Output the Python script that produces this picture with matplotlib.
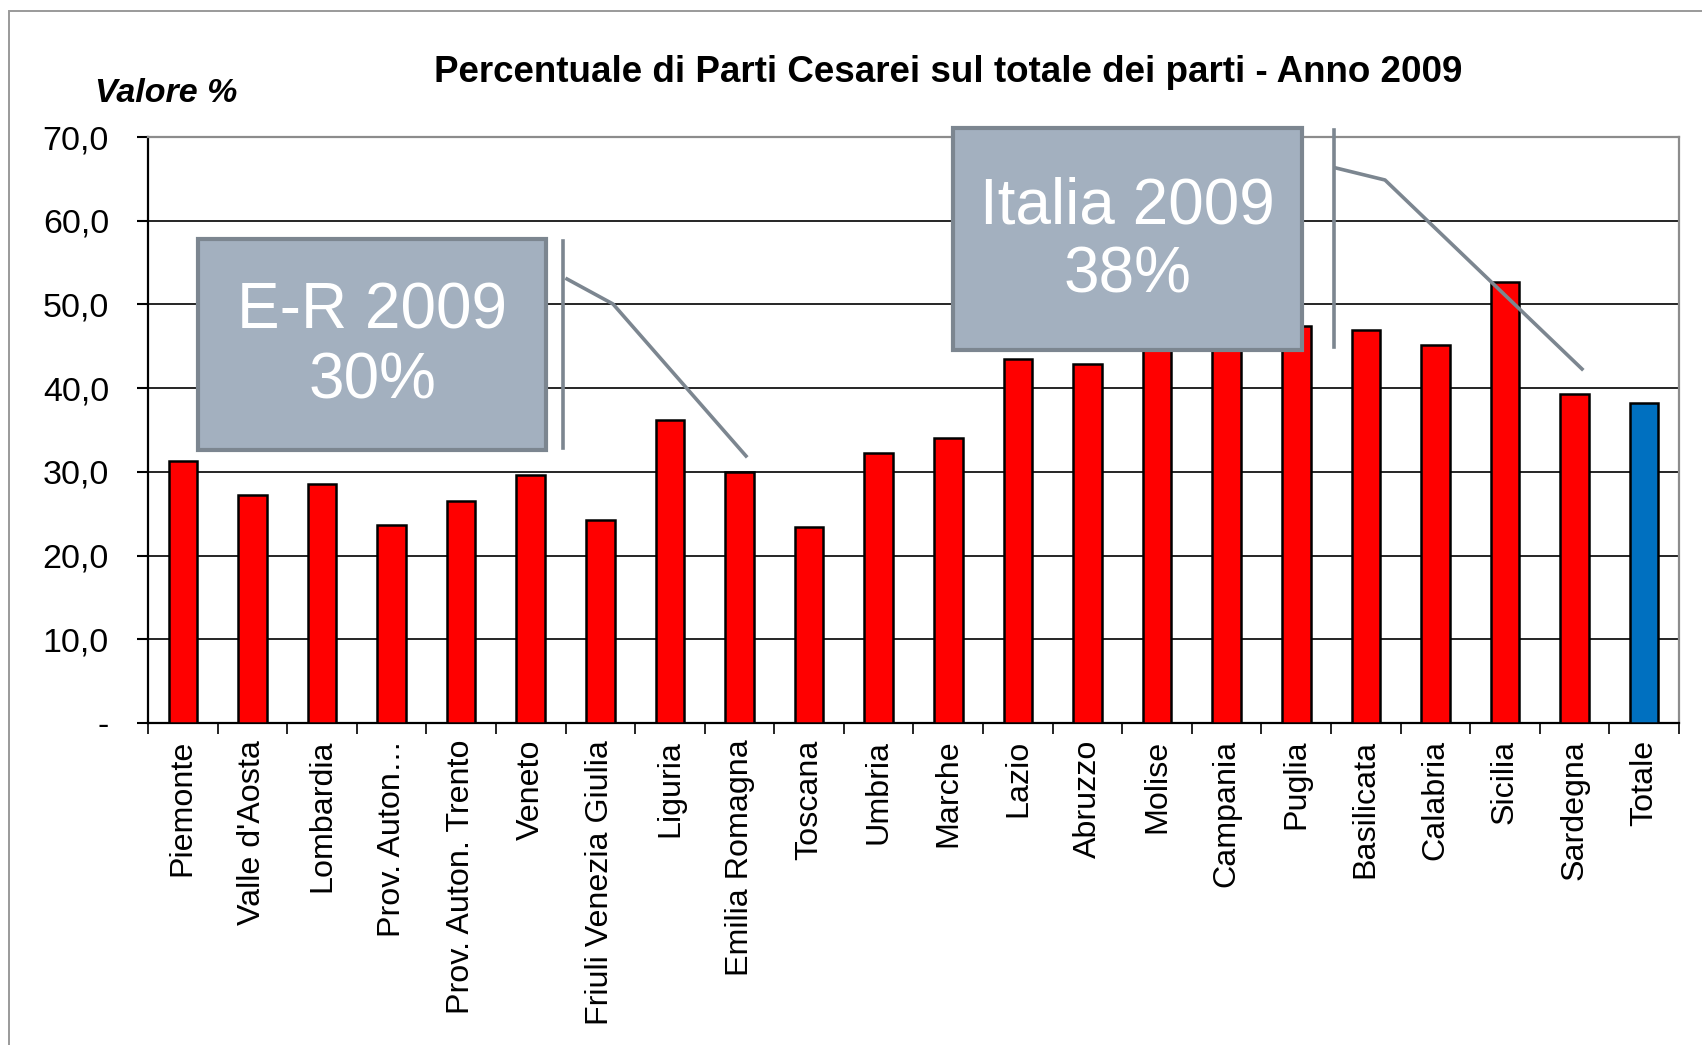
import matplotlib
matplotlib.use("Agg")
import matplotlib.pyplot as plt
from matplotlib.patches import Rectangle
from matplotlib.lines import Line2D

regions = ["Piemonte", "Valle d'Aosta", "Lombardia", "Prov. Auton…", "Prov. Auton. Trento",
           "Veneto", "Friuli Venezia Giulia", "Liguria", "Emilia Romagna", "Toscana",
           "Umbria", "Marche", "Lazio", "Abruzzo", "Molise", "Campania", "Puglia",
           "Basilicata", "Calabria", "Sicilia", "Sardegna", "Totale"]
values = [31.3, 27.2, 28.5, 23.7, 26.5, 29.6, 24.3, 36.2, 30.0, 23.4,
          32.2, 34.0, 43.5, 42.9, 58.0, 61.9, 47.4, 47.0, 45.2, 52.7, 39.3, 38.2]
bar_colors = ["#FF0000"] * 21 + ["#0070C0"]
yticks = [0, 10, 20, 30, 40, 50, 60, 70]
ytick_labels = ["-", "10,0", "20,0", "30,0", "40,0", "50,0", "60,0", "70,0"]
title = "Percentuale di Parti Cesarei sul totale dei parti - Anno 2009"
ylab = "Valore %"
callouts = ["E-R 2009\n30%", "Italia 2009\n38%"]

W, H = 1702, 1045
plt.rcParams['font.family'] = ['Liberation Sans', 'DejaVu Sans']
fig = plt.figure(figsize=(W / 100, H / 100), dpi=100)

def fx(x):
    return x / W

def fy(y):
    return 1 - y / H

ax_l, ax_r, ax_t, ax_b = 148, 1679, 137, 723
ax = fig.add_axes([fx(ax_l), fy(ax_b), (ax_r - ax_l) / W, (ax_b - ax_t) / H])

x = list(range(len(regions)))
ax.bar(x, values, width=0.41, color=bar_colors, edgecolor="black", linewidth=1.8, zorder=3)
ax.set_xlim(-0.5, len(regions) - 0.5)
ax.set_ylim(0, 70)
ax.set_yticks(yticks)
ax.set_yticklabels(ytick_labels, fontsize=24.5)
ax.yaxis.grid(True, color="black", linewidth=1.2, zorder=1)
ax.set_axisbelow(True)

ax.set_xticks(x)
ax.set_xticklabels(regions, rotation=90, fontsize=23.2, va="top", ha="center")
ax.set_xticks([i - 0.5 for i in range(len(regions) + 1)], minor=True)
ax.tick_params(axis="x", which="major", length=0, pad=12)
ax.tick_params(axis="x", which="minor", length=8, width=1.2, color="black")
ax.tick_params(axis="y", which="major", length=8, width=1.5, pad=20, color="black")

for s in ["left", "bottom"]:
    ax.spines[s].set_color("black")
    ax.spines[s].set_linewidth(1.6)
for s in ["top", "right"]:
    ax.spines[s].set_color("#8C8C8C")
    ax.spines[s].set_linewidth(1.6)

# outer chart frame (top and left visible)
fig.patches.append(Rectangle((fx(9), fy(1100)), 2.0, (1100 - 11) / H, transform=fig.transFigure,
                             fill=False, edgecolor="#9A9A9A", linewidth=1.4))

fig.text(fx(948), fy(72), title, fontsize=26.5, fontweight="bold", ha="center", va="center")
fig.text(fx(95), fy(94), ylab, fontsize=24.5, fontweight="bold", style="italic", ha="left", va="center")

box_fc = "#A3B0BF"
box_ec = "#7C8690"
line_c = "#7C8690"

def callout(x0, y0, x1, y1, text, vline_x, vy0, vy1, pts):
    fig.patches.append(Rectangle((fx(x0), fy(y1)), (x1 - x0) / W, (y1 - y0) / H,
                                 transform=fig.transFigure, facecolor=box_fc,
                                 edgecolor=box_ec, linewidth=3, zorder=10))
    fig.text(fx((x0 + x1) / 2), fy((y0 + y1) / 2 + 2), text, fontsize=46, color="white",
             ha="center", va="center", linespacing=1.2, zorder=11)
    fig.lines.append(Line2D([fx(vline_x), fx(vline_x)], [fy(vy0), fy(vy1)],
                            transform=fig.transFigure, color=line_c, linewidth=2.6, zorder=10))
    fig.lines.append(Line2D([fx(p[0]) for p in pts], [fy(p[1]) for p in pts],
                            transform=fig.transFigure, color=line_c, linewidth=2.6, zorder=10))

callout(198, 239, 546, 450, callouts[0], 563, 241, 448,
        [(567, 279), (613, 304), (746, 456)])
callout(953, 128, 1302, 350, callouts[1], 1334, 130, 347,
        [(1336, 168), (1385, 180), (1582, 369)])

fig.savefig("out.png", dpi=100)
